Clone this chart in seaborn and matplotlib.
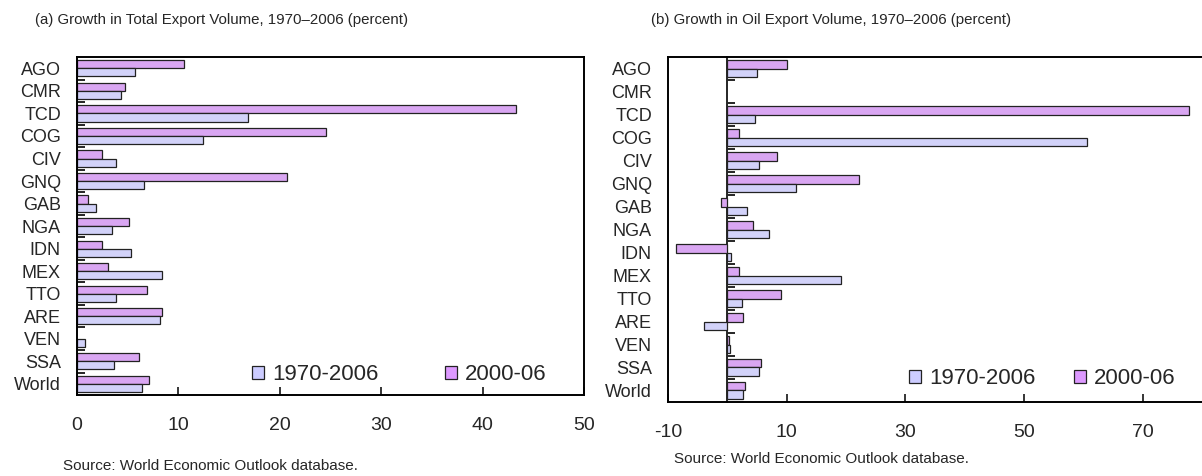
import matplotlib.pyplot as plt
import numpy as np
import pandas as pd
import seaborn as sns
from matplotlib.patches import Patch

countries = ["AGO", "CMR", "TCD", "COG", "CIV", "GNQ", "GAB", "NGA",
             "IDN", "MEX", "TTO", "ARE", "VEN", "SSA", "World"]
periods = ["1970-2006", "2000-06"]

# (a) total export volume growth
total_7006 = [5.7, 4.3, 16.9, 12.4, 3.9, 6.6, 1.9, 3.5, 5.3, 8.4, 3.9, 8.2, 0.75, 3.7, 6.4]
total_0006 = [10.6, 4.7, 43.3, 24.6, 2.5, 20.7, 1.1, 5.1, 2.5, 3.1, 6.9, 8.4, np.nan, 6.1, 7.1]

# (b) oil export volume growth
oil_7006 = [5.0, np.nan, 4.7, 60.6, 5.3, 11.5, 3.3, 7.1, 0.7, 19.2, 2.4, -4.0, 0.4, 5.3, 2.6]
oil_0006 = [10.1, np.nan, 77.8, 2.0, 8.4, 22.2, -1.0, 4.4, -8.7, 2.0, 9.1, 2.6, 0.3, 5.7, 3.0]

colors = {"1970-2006": "#CCCCFF", "2000-06": "#DD99FF"}

sns.set_style("ticks")
plt.rcParams["font.family"] = ["Liberation Sans", "DejaVu Sans"]
plt.rcParams["axes.unicode_minus"] = False

fig = plt.figure(figsize=(12.02, 4.76), dpi=100)
ax1 = fig.add_axes([0.064, 0.170, 0.422, 0.710])
ax2 = fig.add_axes([0.5557, 0.1555, 0.4443, 0.7245])


def panel(ax, v7006, v0006, xlim, xticks):
    n = len(countries)
    df = pd.DataFrame({
        "country": countries * 2,
        "period": ["2000-06"] * n + ["1970-2006"] * n,
        "value": list(v0006) + list(v7006),
    })
    sns.barplot(data=df, y="country", x="value", hue="period",
                hue_order=["2000-06", "1970-2006"], palette=colors,
                orient="h", width=0.72, errorbar=None, legend=False,
                edgecolor="#222222", linewidth=0.9, ax=ax)
    ax.set_xlim(*xlim)
    ax.set_ylim(n - 0.5, -0.5)
    ax.set_xticks(xticks)
    ax.set_xlabel("")
    ax.set_ylabel("")
    ax.tick_params(axis="x", direction="in", length=6, width=1.3, pad=16, labelsize=14)
    ax.tick_params(axis="y", which="major", length=0, pad=11.5, labelsize=13)
    for s in ax.spines.values():
        s.set_linewidth(1.4)
        s.set_color("black")
    handles = [Patch(facecolor=colors[p], edgecolor="#222222", linewidth=0.9) for p in periods]
    return handles


h = panel(ax1, total_7006, total_0006, (0, 50), [0, 10, 20, 30, 40, 50])
ax1.set_yticks(np.arange(0.5, len(countries) - 1), minor=True)
ax1.tick_params(axis="y", which="minor", direction="in", length=6, width=1.4)
ax1.legend(h, periods, ncol=2, frameon=False, loc="lower left",
           bbox_to_anchor=(0.345, 0.029), handlelength=0.55, handleheight=0.55,
           handletextpad=0.35, columnspacing=3.0, fontsize=16,
           borderaxespad=0, borderpad=0)

h = panel(ax2, oil_7006, oil_0006, (-10, 80), [-10, 10, 30, 50, 70])
ax2.spines["right"].set_visible(False)
zero = ax2.secondary_yaxis(0, transform=ax2.transData)
zero.set_yticks(np.arange(0.5, len(countries) - 1))
zero.tick_params(axis="y", direction="in", length=6, width=1.4, labelleft=False)
zero.spines["left"].set_linewidth(1.4)
ax2.legend(h, periods, ncol=2, frameon=False, loc="lower left",
           bbox_to_anchor=(0.451, 0.037), handlelength=0.55, handleheight=0.55,
           handletextpad=0.35, columnspacing=1.75, fontsize=16,
           borderaxespad=0, borderpad=0)

fig.text(0.029, 0.958, "(a) Growth in Total Export Volume, 1970\u20132006 (percent)",
         fontsize=10.8, va="center", ha="left")
fig.text(0.542, 0.958, "(b) Growth in Oil Export Volume, 1970\u20132006 (percent)",
         fontsize=10.8, va="center", ha="left")
fig.text(0.052, 0.021, "Source: World Economic Outlook database.",
         fontsize=11, va="center", ha="left")
fig.text(0.561, 0.035, "Source: World Economic Outlook database.",
         fontsize=11, va="center", ha="left")

fig.savefig("out.png", dpi=100)
